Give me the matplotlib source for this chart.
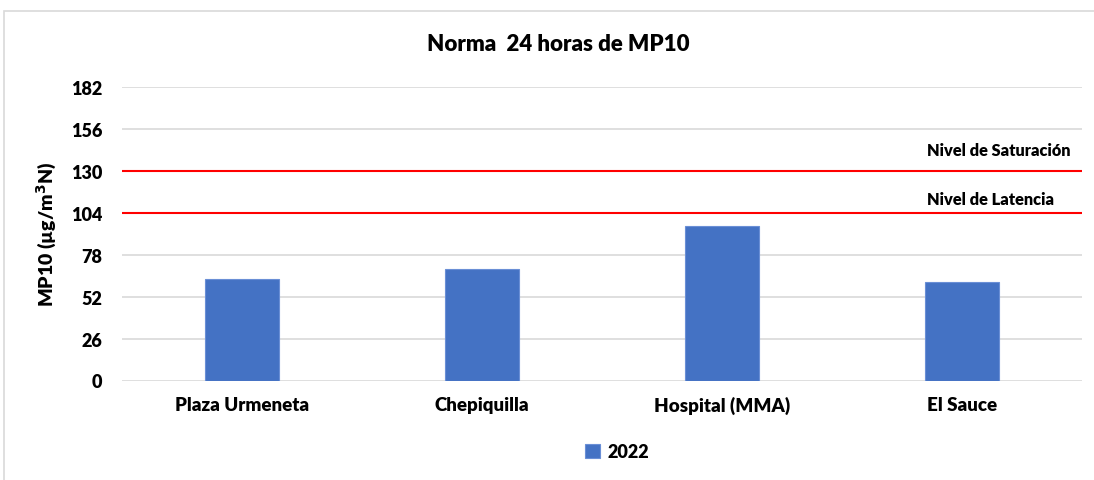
import matplotlib.pyplot as plt
from matplotlib.patches import Rectangle

# data
stations = ['Plaza Urmeneta', 'Chepiquilla', 'Hospital (MMA)', 'El Sauce']
mp10_2022 = [62.8, 68.8, 95.8, 61.0]
yticks = [0, 26, 52, 78, 104, 130, 156, 182]
saturacion = 130
latencia = 104

W = 'heavy'
plt.rcParams['font.family'] = ['Lato', 'DejaVu Sans']
plt.rcParams['font.weight'] = W

fig = plt.figure(figsize=(10.94, 4.81), dpi=100)
ax = fig.add_axes([122 / 1094, 1 - 381.5 / 481, 960 / 1094, 293.8 / 481])

# light chart frame like the spreadsheet export
fig.patches.append(Rectangle((4 / 1094, -0.1), 1.2, 1 - 12 / 481 + 0.1,
                             transform=fig.transFigure, fill=False,
                             edgecolor='#d9d9d9', linewidth=1.2))

x = range(len(stations))
ax.bar(x, mp10_2022, width=0.31, color='#4472C4', edgecolor='#6a8fd6',
       linewidth=0.8, label='2022', zorder=3)

ax.axhline(saturacion, color='#ff0000', linewidth=1.5, zorder=4)
ax.axhline(latencia, color='#ff0000', linewidth=1.5, zorder=4)
ax.text(2.855, saturacion + 13, 'Nivel de Saturación', fontsize=11.8,
        fontweight=W, va='center', ha='left')
ax.text(2.855, latencia + 8.5, 'Nivel de Latencia', fontsize=11.8,
        fontweight=W, va='center', ha='left')

ax.set_xlim(-0.5, 3.5)
ax.set_ylim(0, 182)
ax.set_yticks(yticks)
ax.set_xticks(list(x))
ax.set_xticklabels(stations, fontsize=13.5, fontweight=W)
ax.tick_params(axis='y', length=0, pad=14, labelsize=13)
ax.tick_params(axis='x', length=0, pad=11)
ax.grid(axis='y', color='#d9d9d9', linewidth=1.2, zorder=0)
for s in ax.spines.values():
    s.set_visible(False)

ax.set_ylabel('MP10 (µg/m$^\\mathbf{3}$N)', fontsize=14, fontweight=W,
              labelpad=9)
fig.text(558 / 1094, 1 - 45 / 481, 'Norma  24 horas de MP10', ha='center',
         va='center', fontsize=16, fontweight=W)

fig.legend(loc='center', bbox_to_anchor=(617 / 1094, 1 - 453 / 481),
           frameon=False, fontsize=13, handlelength=0.8, handleheight=0.8,
           handletextpad=0.4)

fig.savefig('out.png', dpi=100)
